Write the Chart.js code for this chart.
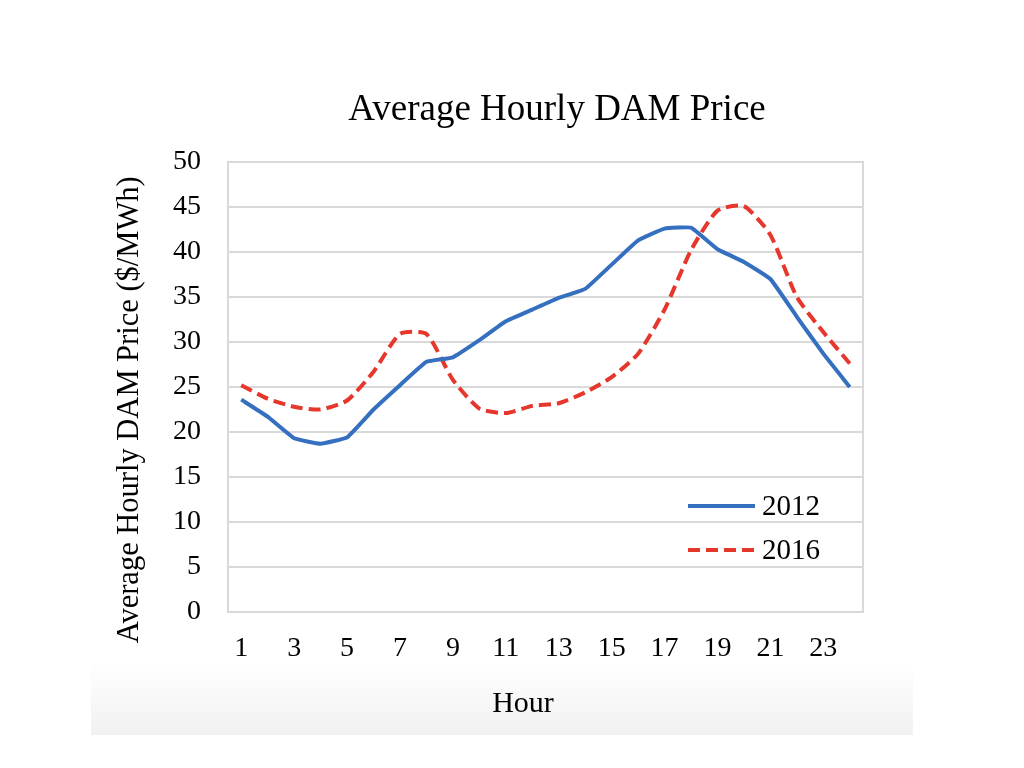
<!DOCTYPE html>
<html>
<head>
<meta charset="utf-8">
<script src="https://cdn.jsdelivr.net/npm/chart.js@4/dist/chart.umd.min.js"></script>
<style>
  html, body { margin: 0; padding: 0; background: #fff; }
  #wrap { position: relative; width: 1024px; height: 768px; }
  #shade { position: absolute; left: 91px; top: 662px; width: 822px; height: 73px;
           background: linear-gradient(to bottom, #ffffff, #f1f1f1); }
  canvas { position: absolute; left: 0; top: 0; }
</style>
</head>
<body>
<div id="wrap">
  <div id="shade"></div>
  <canvas id="chart" width="1024" height="768"></canvas>
</div>
<script>
const hours = Array.from({ length: 24 }, (_, i) => String(i + 1))
const price2012 = [23.6, 21.7, 19.3, 18.7, 19.4, 22.5, 25.2, 27.8, 28.3, 30.2, 32.3, 33.6,
                   34.9, 35.9, 38.6, 41.3, 42.6, 42.7, 40.3, 38.9, 37.0, 32.8, 28.7, 25.0]
const price2016 = [25.2, 23.7, 22.8, 22.5, 23.5, 26.7, 30.9, 30.9, 25.8, 22.6, 22.1, 22.9,
                   23.2, 24.4, 26.1, 28.7, 33.6, 40.2, 44.6, 45.1, 41.9, 35.0, 31.1, 27.6]
const yTicks = [0, 5, 10, 15, 20, 25, 30, 35, 40, 45, 50]

const serif = "'Liberation Serif', 'Times New Roman', serif"
const blue = "#3570c0"
const red = "#e5372c"

// frame around the plot + legend inside the plot, bottom right
const framePlugin = {
  id: "frame",
  beforeDatasetsDraw(chart) {
    const { ctx, chartArea: a } = chart
    ctx.save()
    ctx.strokeStyle = "#d9d9d9"
    ctx.lineWidth = 2
    ctx.strokeRect(a.left, a.top, a.right - a.left, a.bottom - a.top)
    ctx.restore()
  },
  afterDraw(chart) {
    const { ctx, chartArea: a } = chart
    const x0 = a.right - 175, x1 = a.right - 108
    ctx.save()
    ctx.font = "29px " + serif
    ctx.textBaseline = "middle"
    ctx.fillStyle = "#000"
    chart.data.datasets.forEach((ds, i) => {
      const y = a.bottom - 106 + i * 44
      ctx.strokeStyle = ds.borderColor
      ctx.lineWidth = ds.borderWidth
      ctx.setLineDash(ds.borderDash || [])
      ctx.beginPath()
      ctx.moveTo(x0, y)
      ctx.lineTo(x1, y)
      ctx.stroke()
      ctx.fillText(ds.label, x1 + 7, y + 1)
    })
    ctx.restore()
  }
}

new Chart(document.getElementById("chart"), {
  type: "line",
  data: {
    labels: hours,
    datasets: [
      { label: "2012", data: price2012, borderColor: blue, borderWidth: 4,
        pointRadius: 0, tension: 0.1 },
      { label: "2016", data: price2016, borderColor: red, borderWidth: 4,
        borderDash: [12, 6], pointRadius: 0, tension: 0.2 }
    ]
  },
  options: {
    responsive: false,
    animation: false,
    layout: { padding: { left: 90, right: 0, top: 0, bottom: 0 } },
    plugins: {
      legend: { display: false },
      tooltip: { enabled: false },
      title: {
        display: true,
        text: "Average Hourly DAM Price",
        color: "#000",
        font: { family: serif, size: 37, weight: "normal" },
        padding: { top: 88, bottom: 29.6 }
      }
    },
    scales: {
      x: {
        type: "category",
        offset: true,
        grid: { display: false },
        border: { display: false },
        ticks: {
          autoSkip: false, maxRotation: 0, padding: 12, color: "#000",
          font: { family: serif, size: 28 },
          callback: (v, i) => (i % 2 === 0 ? hours[i] : "")
        },
        title: {
          display: true, text: "Hour      ", color: "#000",
          font: { family: serif, size: 30 }, padding: { top: 0, bottom: 46 }
        },
        afterFit: s => { s.height = 156 }
      },
      y: {
        min: 0, max: 50,
        grid: { color: "#d9d9d9", lineWidth: 2, drawTicks: false },
        border: { display: false },
        afterBuildTicks: s => { s.ticks = yTicks.map(v => ({ value: v })) },
        ticks: { padding: 27, color: "#000", font: { family: serif, size: 28 } },
        title: {
          display: true, text: "Average Hourly DAM Price ($/MWh)      ", color: "#000",
          font: { family: serif, size: 30.5 }, padding: { top: 22, bottom: 0 }
        },
        afterFit: s => { s.width = 138 }
      },
      y2: {
        position: "right",
        display: true,
        grid: { display: false },
        border: { display: false },
        ticks: { display: false },
        afterFit: s => { s.width = 161 }
      }
    }
  },
  plugins: [framePlugin]
})
</script>
</body>
</html>
